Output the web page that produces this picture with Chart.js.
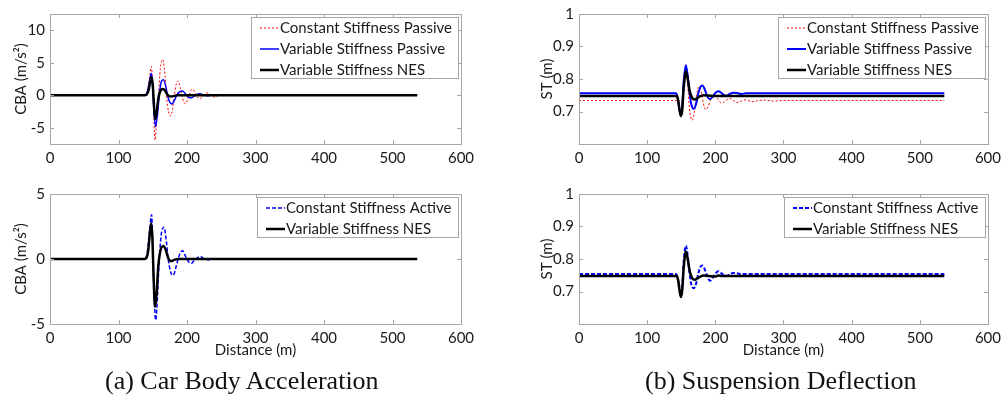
<!DOCTYPE html>
<html>
<head>
<meta charset="utf-8">
<script src="https://cdn.jsdelivr.net/npm/chart.js@4.4.1/dist/chart.umd.min.js"></script>
<style>
  body { margin: 0; background: #fff; width: 1006px; height: 403px; position: relative; overflow: hidden; }
  canvas { position: absolute; }
  .cap { position: absolute; top: 366px; font-family: "Liberation Serif", serif; font-size: 26px; color: #111; white-space: nowrap; }
</style>
</head>
<body>
<canvas id="cbaTop" width="503" height="170" style="left:0;top:0"></canvas>
<canvas id="stTop" width="503" height="170" style="left:503px;top:0"></canvas>
<canvas id="cbaBottom" width="503" height="200" style="left:0;top:170px"></canvas>
<canvas id="stBottom" width="503" height="200" style="left:503px;top:170px"></canvas>
<div class="cap" style="left:105px">(a) Car Body Acceleration</div>
<div class="cap" style="left:645px">(b) Suspension Deflection</div>

<script>
// distance axis ticks (m)
const distTicks = [0, 100, 200, 300, 400, 500, 600];
const cbaTopTicks = [-5, 0, 5, 10];
const cbaBottomTicks = [-5, 0, 5];
const stTicks = [0.7, 0.8, 0.9, 1];

// car body acceleration, [distance, m/s^2]
const cbaConstPassive = [[0,0],[138,0],[142,0.6],[145,2.5],[148,4.4],[150.5,0],[153.3,-6.9],[156,-3.5],[158.5,0],[161,4],[164.5,5.5],[168,3],[170,0],
  [173,-2.5],[176,-3.2],[179,-2],[181.5,0],[184.5,1.8],[187,2.2],[190,1.2],[192.5,0],[195.5,-1.1],[198,-1.3],[201,-0.6],[203,0],
  [206,0.8],[208.5,0.97],[211,0.5],[213.5,0],[216.5,-0.45],[219,-0.55],[222,-0.25],[225,0],[228,0.3],[231,0.36],[234,0.15],[236.5,0],
  [239,-0.25],[241.5,-0.3],[244.5,-0.12],[247,0],[250,0.15],[253,0.1],[258,-0.08],[264,0.05],[270,0],[536,0]];
const cbaVarPassive = [[0,0],[138,0],[142,0.5],[145,2],[148,3.4],[150,1],[151.5,-2],[154,-4.8],[157,-2.8],[159.5,0],[162.5,2.1],[165.5,2.4],
  [169,1.4],[171.5,0],[175,-1.1],[178,-1.35],[182,-0.7],[185,0],[189.5,0.55],[193.5,0.66],[197,0.3],[199.5,0],[203,-0.35],[206.5,-0.4],
  [210,-0.15],[213,0],[216,0.2],[219.5,0.22],[223,0.08],[226,0],[230,-0.08],[235,0],[536,0]];
const cbaVarNes = [[0,0],[138,0],[141,0.1],[144,0.8],[146.5,2.2],[148.4,2.8],[150,1.6],[151.5,-1],[153.3,-3.65],[155.5,-2.8],[158,-0.6],
  [160.5,0.5],[164.5,0.95],[168,0.7],[171,0.15],[174,-0.15],[177,-0.2],[181,-0.1],[186,0],[536,0]];
const cbaConstActive = [[0,0],[138,0],[142,0.5],[145,2],[148.4,3.4],[150,1],[151.5,-2],[154.3,-4.7],[157,-2.8],[159.5,0],[163,2.1],[166.4,2.45],
  [170,1.3],[172.5,0],[176.5,-1.05],[180,-1.25],[184,-0.6],[187,0],[190.5,0.5],[193.7,0.64],[197,0.3],[200,0],[203.5,-0.28],[206.8,-0.33],
  [210,-0.12],[213,0],[217,0.15],[220.4,0.18],[224,0.05],[227,0],[231,-0.07],[236,0],[536,0]];
const cbaVarNes2 = [[0,0],[138,0],[141,0.1],[143.5,0.7],[146,2.1],[147.8,2.75],[149.5,1.6],[151,-1],[153.3,-3.67],[155.5,-2.8],[158,-0.6],
  [161,0.6],[165.5,1.0],[169,0.7],[172,0.15],[175,-0.12],[178,-0.15],[182,-0.05],[187,0],[536,0]];

// suspension travel, [distance, m]
const stConstPassive = [[0,0.734],[143,0.734],[145.5,0.725],[148,0.7],[150,0.69],[152,0.71],[154.5,0.78],[157,0.82],[159.5,0.78],[162,0.71],
  [166,0.673],[169.5,0.7],[172.5,0.75],[176,0.776],[179.5,0.76],[182.5,0.725],[186,0.706],[189.5,0.715],[193,0.735],[197.5,0.75],
  [201,0.746],[204.5,0.737],[208.5,0.726],[212,0.728],[216,0.735],[221,0.74],[226,0.735],[231,0.728],[236,0.73],[242,0.736],
  [248,0.734],[254,0.73],[262,0.733],[272,0.735],[285,0.732],[300,0.734],[536,0.734]];
const stVarPassive = [[0,0.756],[142,0.756],[144.5,0.745],[147,0.71],[149.5,0.69],[151.5,0.72],[153.5,0.79],[156.8,0.842],[159.5,0.81],
  [162,0.76],[165,0.72],[168.5,0.708],[172,0.725],[175,0.755],[178,0.775],[181,0.78],[184.5,0.768],[188,0.748],[192,0.738],[196,0.745],
  [200,0.757],[204.5,0.762],[209,0.757],[213,0.75],[217,0.749],[221,0.754],[226,0.758],[232,0.757],[238,0.754],[245,0.756],[536,0.756]];
const stVarNes = [[0,0.748],[143,0.748],[145.5,0.735],[147.5,0.705],[149.5,0.686],[151.5,0.705],[153.5,0.77],[156.8,0.823],[159.5,0.8],
  [162.5,0.762],[166,0.742],[170,0.737],[174,0.742],[178,0.747],[183,0.75],[190,0.749],[200,0.748],[536,0.748]];
const stConstActive = [[0,0.754],[142,0.754],[144.5,0.745],[147,0.71],[149.5,0.69],[151.5,0.72],[153.5,0.79],[156.8,0.841],[159.5,0.81],
  [162,0.76],[165,0.72],[168.5,0.71],[172,0.726],[175,0.755],[178,0.775],[181,0.78],[184.5,0.768],[188,0.748],[192,0.733],[196,0.742],
  [200,0.755],[204.5,0.762],[209,0.756],[213,0.749],[217,0.748],[221,0.753],[226,0.757],[232,0.756],[238,0.753],[245,0.754],[536,0.754]];
const stVarNes2 = [[0,0.748],[143,0.748],[145.5,0.735],[147.5,0.705],[149.5,0.683],[151.5,0.705],[153.5,0.77],[156.8,0.823],[159.5,0.8],
  [162.5,0.762],[166,0.741],[170,0.736],[174,0.741],[178,0.746],[183,0.749],[190,0.748],[200,0.746],[204,0.749],[210,0.748],[536,0.748]];

const FONT = 'Lato';
const TEXT = '#1a1a1a';
const GRAY = '#a6a6a6';

// axes box with small inward tick marks
const frame = {
  id: 'frame',
  afterDatasetsDraw(chart) {
    const { ctx, chartArea: a, scales: { x, y } } = chart;
    ctx.save();
    ctx.strokeStyle = GRAY;
    ctx.lineWidth = 1;
    ctx.beginPath();
    x.ticks.forEach(t => {
      const px = Math.round(x.getPixelForValue(t.value)) + 0.5;
      ctx.moveTo(px, a.bottom); ctx.lineTo(px, a.bottom - 4);
      ctx.moveTo(px, a.top); ctx.lineTo(px, a.top + 4);
    });
    y.ticks.forEach(t => {
      const py = Math.round(y.getPixelForValue(t.value)) + 0.5;
      ctx.moveTo(a.left, py); ctx.lineTo(a.left + 4, py);
      ctx.moveTo(a.right, py); ctx.lineTo(a.right - 4, py);
    });
    ctx.stroke();
    ctx.strokeRect(Math.round(a.left) + 0.5, Math.round(a.top) + 0.5, Math.round(a.width), Math.round(a.height));
    ctx.restore();
  }
};

// boxed legend in the upper right corner of the plot
const boxLegend = {
  id: 'boxLegend',
  afterDraw(chart) {
    const { ctx, chartArea: a } = chart;
    const sets = chart.data.datasets;
    ctx.save();
    ctx.font = '15px ' + FONT;
    const w = Math.round(31 + Math.max(...sets.map(d => ctx.measureText(d.label).width)) + 4);
    const h = sets.length * 21 - 2;
    const bx = Math.round(a.right) - 3 - w, by = Math.round(a.top) + 3;
    ctx.fillStyle = '#fff';
    ctx.fillRect(bx, by, w, h);
    ctx.strokeStyle = GRAY;
    ctx.lineWidth = 1;
    ctx.strokeRect(bx + 0.5, by + 0.5, w, h);
    sets.forEach((d, i) => {
      const cy = by + 11 + i * 21;
      ctx.strokeStyle = d.borderColor;
      ctx.lineWidth = d.borderWidth;
      ctx.setLineDash(d.borderDash || []);
      ctx.beginPath();
      ctx.moveTo(bx + 9, cy); ctx.lineTo(bx + 28, cy);
      ctx.stroke();
      ctx.setLineDash([]);
      ctx.fillStyle = TEXT;
      ctx.textBaseline = 'middle';
      ctx.fillText(d.label, bx + 29, cy);
    });
    ctx.restore();
  }
};

function line(label, pts, color, width, dash, order) {
  return {
    label: label,
    data: pts.map(p => ({ x: p[0], y: p[1] })),
    borderColor: color,
    borderWidth: width,
    borderDash: dash,
    order: order,
    pointRadius: 0,
    cubicInterpolationMode: 'monotone',
    fill: false
  };
}

function panel(id, sets, yTicks, yMin, yMax, yTitle, o) {
  new Chart(document.getElementById(id), {
    type: 'line',
    data: { datasets: sets },
    options: {
      responsive: false,
      animation: false,
      devicePixelRatio: 1,
      events: [],
      layout: { padding: { left: 0, top: o.top, right: o.right, bottom: 0 } },
      plugins: { legend: { display: false }, tooltip: { enabled: false } },
      scales: {
        x: {
          type: 'linear', min: 0, max: 600,
          afterBuildTicks: s => { s.ticks = distTicks.map(v => ({ value: v })); },
          afterFit: s => { s.height = o.xh; },
          grid: { display: false, drawTicks: false },
          border: { display: false },
          ticks: { color: TEXT, font: { family: FONT, size: 15 }, padding: 5, maxRotation: 0 },
          title: { display: o.xTitle, text: 'Distance (m)', color: TEXT, font: { family: FONT, size: 15 }, padding: { top: 0, bottom: 11 } }
        },
        y: {
          type: 'linear', min: yMin, max: yMax,
          afterBuildTicks: s => { s.ticks = yTicks.map(v => ({ value: v })); },
          afterFit: s => { s.width = o.yw; },
          grid: { display: false, drawTicks: false },
          border: { display: false },
          ticks: { color: TEXT, font: { family: FONT, size: 15 }, padding: 5, callback: v => String(v) },
          title: { display: true, text: yTitle, color: TEXT, font: { family: FONT, size: 15 }, padding: { top: o.yt, bottom: 0 } }
        }
      }
    },
    plugins: [frame, boxLegend]
  });
}

panel('cbaTop', [
  line('Constant Stiffness Passive', cbaConstPassive, 'rgb(255,0,0)', 1, [2, 2], 3),
  line('Variable Stiffness Passive', cbaVarPassive, 'rgb(0,0,255)', 1.5, [], 2),
  line('Variable Stiffness NES', cbaVarNes, '#000', 2.5, [], 1)
], cbaTopTicks, -7.5, 12.5, 'CBA (m/s²)', { top: 14, right: 42, xh: 26, yw: 50, yt: 12.5, xTitle: false });

panel('stTop', [
  line('Constant Stiffness Passive', stConstPassive, 'rgb(255,0,0)', 1, [2, 2], 3),
  line('Variable Stiffness Passive', stVarPassive, 'rgb(0,0,255)', 2, [], 2),
  line('Variable Stiffness NES', stVarNes, '#000', 2.5, [], 1)
], stTicks, 0.6, 1, 'ST (m)', { top: 14, right: 15, xh: 26, yw: 76, yt: 35.5, xTitle: false });

panel('cbaBottom', [
  line('Constant Stiffness Active', cbaConstActive, 'rgb(0,0,255)', 1.5, [4, 2], 2),
  line('Variable Stiffness NES', cbaVarNes2, '#000', 2.5, [], 1)
], cbaBottomTicks, -5, 5, 'CBA (m/s²)', { top: 24, right: 42, xh: 46, yw: 50, yt: 12.5, xTitle: true });

panel('stBottom', [
  line('Constant Stiffness Active', stConstActive, 'rgb(0,0,255)', 2, [4, 2], 2),
  line('Variable Stiffness NES', stVarNes2, '#000', 2.5, [], 1)
], stTicks, 0.6, 1, 'ST (m)', { top: 24, right: 15, xh: 46, yw: 76, yt: 35.5, xTitle: true });
</script>
</body>
</html>
